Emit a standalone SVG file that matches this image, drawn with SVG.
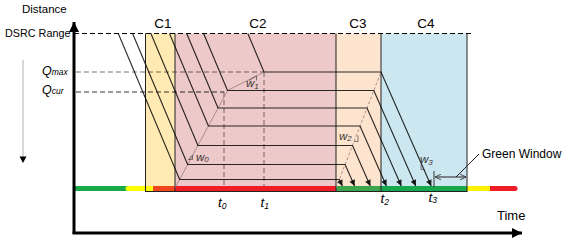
<svg xmlns="http://www.w3.org/2000/svg" width="565" height="246" viewBox="0 0 565 246">
<defs>
<style>
.t{font-family:"Liberation Sans",Arial,sans-serif;fill:#000}
.it{font-style:italic}
.traj{fill:none;stroke:#000;stroke-opacity:.82;stroke-width:1.15}
.dash{fill:none;stroke:#000;stroke-width:1;stroke-dasharray:5 3}
.shock{fill:none;stroke:#9a7a7a;stroke-width:.8}
.zb{fill:none;stroke:#222;stroke-width:1}
.seg{fill:none;stroke-width:5}
.mark{fill:none;stroke:#444;stroke-width:.7}
.wl{font-family:"Liberation Sans",Arial,sans-serif;font-style:italic;fill:#333}
</style>
<marker id="ah" viewBox="0 0 10 10" refX="10" refY="5" markerWidth="7" markerHeight="6" markerUnits="userSpaceOnUse" orient="auto"><path d="M0,0L10,5L0,10z" fill="#000" fill-opacity=".85"/></marker>
<marker id="oa" viewBox="0 0 10 10" refX="9.5" refY="5" markerWidth="7" markerHeight="7" markerUnits="userSpaceOnUse" orient="auto-start-reverse"><path d="M1,1L9.5,5L1,9" fill="none" stroke="#444" stroke-width="1.4"/></marker>
<marker id="axh" viewBox="0 0 10 10" refX="10" refY="5" markerWidth="11" markerHeight="10" markerUnits="userSpaceOnUse" orient="auto"><path d="M0,0L10,5L0,10z" fill="#000"/></marker>
</defs>
<rect width="565" height="246" fill="#fff"/>

<g id="zones">
  <g id="C1"><rect x="145" y="33.5" width="30" height="157.5" fill="#FFEAB4"/><text class="t" x="163" y="28" font-size="13.5" text-anchor="middle">C1</text></g>
  <g id="C2"><rect x="175" y="33.5" width="161" height="157.5" fill="#EEC9C9"/><text class="t" x="258" y="28" font-size="13.5" text-anchor="middle">C2</text></g>
  <g id="C3"><rect x="336" y="33.5" width="45" height="157.5" fill="#FDE4CF"/><text class="t" x="358" y="28" font-size="13.5" text-anchor="middle">C3</text></g>
  <g id="C4"><rect x="381" y="33.5" width="86" height="157.5" fill="#CCE7F0"/><text class="t" x="426" y="28" font-size="13.5" text-anchor="middle">C4</text></g>
</g>

<g id="signal">
  <path class="seg" d="M76,188.5H128" stroke="#19A84A" stroke-linecap="round"/>
  <path class="seg" d="M128,188.5H151" stroke="#FFFF00" stroke-linecap="round"/>
  <path class="seg" d="M153,188.5H175" stroke="#F2461E"/>
  <path class="seg" d="M175,188.5H336" stroke="#EE1C25"/>
  <path class="seg" d="M336,188.5H381" stroke="#3DA54B"/>
  <path class="seg" d="M381,188.5H467" stroke="#17A84B"/>
  <path class="seg" d="M490,188.5H515" stroke="#EE1C25" stroke-linecap="round"/>
  <path class="seg" d="M467,188.5H490" stroke="#FFF200"/>
</g>

<path class="zb" d="M145.5,33.5V191.5M175,33.5V191.5M336,33.5V191.5M381,33.5V191.5M467,33.5V191.5M145,191.5H467.5"/>

<g id="guides">
  <path class="dash" d="M74,33.5H473" stroke="#222" stroke-dasharray="7 4"/>
  <path class="dash" d="M76,72H264" stroke-opacity=".55"/>
  <path class="dash" d="M76,92H224" stroke-opacity=".8"/>
  <path class="dash" d="M224,92V186" stroke-opacity=".5"/>
  <path class="dash" d="M264,72V186" stroke-opacity=".5"/>
</g>

<g id="shockwaves">
  <path class="shock" d="M175,188L227.5,90.5L264,72"/>
  <path class="shock" d="M336,188L381,72" stroke="#b4a090" stroke-dasharray="3 2"/>
</g>

<g id="connectors">
  <path class="traj" marker-end="url(#ah)" d="M247.8,33.5L264,72L381,72L431.2,186"/>
  <path class="traj" marker-end="url(#ah)" d="M203.6,33.5L227.5,90.5L373.8,90.5L415.8,186"/>
  <path class="traj" marker-end="url(#ah)" d="M186.7,33.5L218,108L367,108L401.3,186"/>
  <path class="traj" marker-end="url(#ah)" d="M169.5,33.5L208.4,126L360,126L386.4,186"/>
  <path class="traj" marker-end="url(#ah)" d="M150.9,33.5L197.9,145.5L352.5,145.5L370.3,186"/>
  <path class="traj" marker-end="url(#ah)" d="M132.6,33.5L187.6,164.5L345.1,164.5L354.6,186"/>
  <path class="traj" marker-end="url(#ah)" d="M118.3,33.5L179.6,179.5L339.3,179.5L342.4,186"/>
</g>

<g id="slopes">
  <path class="mark" d="M188.5,159.5H192.5V155Z"/>
  <text class="wl" x="196" y="160.5" font-size="11.5">w<tspan font-size="8" dy="1.5">0</tspan></text>
  <path class="mark" d="M249,80.5L256.5,76V80.5"/>
  <text class="wl" x="246" y="86.5" font-size="11.5">w<tspan font-size="8" dy="2">1</tspan></text>
  <path class="mark" d="M354,141.5H358V135.5"/>
  <text class="wl" x="339" y="139.5" font-size="11.5">w<tspan font-size="8" dy="1.5">2</tspan></text>
  <path class="mark" d="M421,164.5V169.5H425"/>
  <text class="wl" x="420" y="163" font-size="11.5">w<tspan font-size="8" dy="2">3</tspan></text>
</g>

<g id="green-window">
  <path d="M434,171V187" stroke="#333" stroke-width="1"/>
  <path d="M435,177H466" stroke="#444" stroke-width="1.2" marker-start="url(#oa)" marker-end="url(#oa)"/>
  <path d="M456,177L479,154" stroke="#222" stroke-width="1"/>
  <text class="t" x="482" y="158" font-size="12">Green Window</text>
</g>

<g id="axes">
  <path d="M74,233.5V22" stroke="#000" stroke-width="3" fill="none" marker-end="url(#axh)"/>
  <path d="M72.5,233H522" stroke="#000" stroke-width="3" fill="none" marker-end="url(#axh)"/>
  <text class="t" x="22" y="13" font-size="11.5">Distance</text>
  <text class="t" x="497" y="219.5" font-size="13">Time</text>
  <text class="t" x="5" y="37" font-size="10.8">DSRC Range</text>
  <text class="t it" x="42" y="74.5" font-size="12.5">Q<tspan font-size="8.5">max</tspan></text>
  <text class="t it" x="42" y="93.5" font-size="12.5">Q<tspan font-size="8.5">cur</tspan></text>
  <path d="M23,60V157" stroke="#b0b0b0" stroke-width="1"/>
  <path d="M19.5,156.5H26.5L23,163Z" fill="#000"/>
</g>

<g id="times">
  <text class="t it" x="218" y="207" font-size="13.5">t<tspan font-size="8.5" dy="1.5">0</tspan></text>
  <text class="t it" x="260.5" y="207" font-size="13.5">t<tspan font-size="8.5" dy="1.5">1</tspan></text>
  <text class="t it" x="380.5" y="203" font-size="13.5">t<tspan font-size="8.5" dy="1.5">2</tspan></text>
  <text class="t it" x="428.5" y="201.5" font-size="13.5">t<tspan font-size="8.5" dy="1.5">3</tspan></text>
</g>
</svg>
